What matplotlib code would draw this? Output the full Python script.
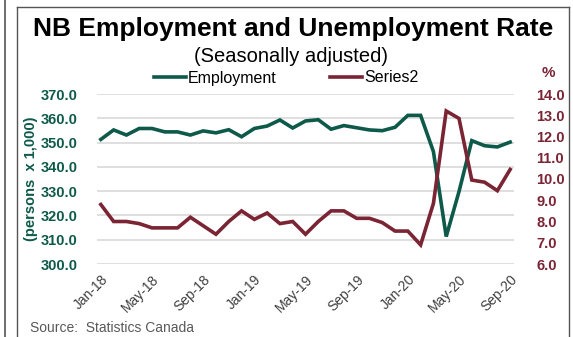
import matplotlib
matplotlib.use("Agg")
import matplotlib.pyplot as plt
from matplotlib.lines import Line2D

plt.rcParams['font.family'] = ['Liberation Sans', 'DejaVu Sans']

months = ["Jan-18","Feb-18","Mar-18","Apr-18","May-18","Jun-18","Jul-18","Aug-18","Sep-18","Oct-18","Nov-18","Dec-18",
          "Jan-19","Feb-19","Mar-19","Apr-19","May-19","Jun-19","Jul-19","Aug-19","Sep-19","Oct-19","Nov-19","Dec-19",
          "Jan-20","Feb-20","Mar-20","Apr-20","May-20","Jun-20","Jul-20","Aug-20","Sep-20"]
employment = [351.3, 355.2, 353.1, 355.8, 355.8, 354.4, 354.4, 353.1, 354.8, 354.0, 355.3, 352.4,
              355.8, 356.8, 359.3, 356.0, 358.9, 359.4, 355.5, 357.0, 356.1, 355.2, 354.9, 356.3,
              361.2, 361.2, 346.3, 311.3, 329.8, 350.8, 348.7, 348.2, 350.2]
unemployment = [8.8, 8.0, 8.0, 7.9, 7.7, 7.7, 7.7, 8.2, 7.8, 7.4, 8.0, 8.5,
                8.1, 8.4, 7.9, 8.0, 7.4, 8.0, 8.5, 8.5, 8.15, 8.15, 7.95, 7.55,
                7.55, 6.9, 8.85, 13.2, 12.85, 9.95, 9.85, 9.45, 10.45]
tick_labels = ["Jan-18","May-18","Sep-18","Jan-19","May-19","Sep-19","Jan-20","May-20","Sep-20"]
left_ticks = [300, 310, 320, 330, 340, 350, 360, 370]
right_ticks = [6, 7, 8, 9, 10, 11, 12, 13, 14]

GREEN = "#0E5A4A"
RED = "#7A2434"
W, H = 573, 337

fig = plt.figure(figsize=(W/100, H/100), dpi=100)
ax = fig.add_axes([97/W, 1-264/H, (514-97)/W, (264-94)/H])
ax2 = ax.twinx()

x = list(range(len(months)))
ax.plot(x, employment, color=GREEN, lw=2.6, solid_joinstyle='miter', zorder=3, label="Employment")
ax2.plot(x, unemployment, color=RED, lw=2.6, solid_joinstyle='miter', zorder=3, label="Series2")

ax.set_xlim(-0.3, len(months)-1+0.3)
ax.set_ylim(300, 370)
ax2.set_ylim(6, 14)
ax.set_yticks(left_ticks)
ax.set_yticklabels([f"{v:.1f}" for v in left_ticks])
ax2.set_yticks(right_ticks)
ax2.set_yticklabels([f"{v:.1f}" for v in right_ticks])
ax.grid(axis='y', color='#D9D9D9', lw=1.2)
ax.set_axisbelow(True)

pos = [months.index(t) for t in tick_labels]
ax.set_xticks(pos)
ax.set_xticklabels(tick_labels, rotation=45, ha='right', rotation_mode='anchor', fontsize=10, color='#404040')

for a in (ax, ax2):
    for s in a.spines.values():
        s.set_visible(False)
    a.tick_params(length=0)
ax.tick_params(axis='x', pad=6)
ax.tick_params(axis='y', labelsize=10.5, labelcolor=GREEN, pad=14)
ax2.tick_params(axis='y', labelsize=10.5, labelcolor=RED, pad=16)
for t in ax.get_yticklabels():
    t.set_fontweight('bold')
for t in ax2.get_yticklabels():
    t.set_fontweight('bold')

ax.set_ylabel("(persons  x 1,000)", color=GREEN, fontweight='bold', fontsize=10.5, labelpad=2)

fig.text(293/W, 1-29/H, "NB Employment and Unemployment Rate", ha='center', va='center',
         fontsize=19, fontweight='bold', color='black')
fig.text(291/W, 1-56/H, "(Seasonally adjusted)", ha='center', va='center', fontsize=14.5, color='black')
fig.text(548/W, 1-73/H, "%", ha='center', va='center', fontsize=11, fontweight='bold', color=RED)
fig.text(30/W, 1-328/H, "Source:  Statistics Canada", ha='left', va='center', fontsize=10, color='#595959')

h1, l1 = ax.get_legend_handles_labels()
h2, l2 = ax2.get_legend_handles_labels()
fig.legend(h1 + h2, l1 + l2, loc='center', bbox_to_anchor=(286/W, 1-78/H), ncol=2, frameon=False,
           fontsize=11.5, handlelength=2.0, handletextpad=0.1, columnspacing=3.4, borderaxespad=0)

# frame lines
def pl(x0, y0, x1, y1, c='#404040', lw=1.0):
    fig.add_artist(Line2D([x0/W, x1/W], [1-y0/H, 1-y1/H], color=c, lw=lw, transform=fig.transFigure))
pl(5, 0, 5, H, c='#555555', lw=1.2)
pl(16.5, 6.5, 16.5, H, c='#555555', lw=1.0)
pl(16.5, 6.5, 569, 6.5, c='#555555', lw=1.0)
pl(569, 6.5, 569, H, c='#555555', lw=1.0)

fig.savefig("out.png", dpi=100)
